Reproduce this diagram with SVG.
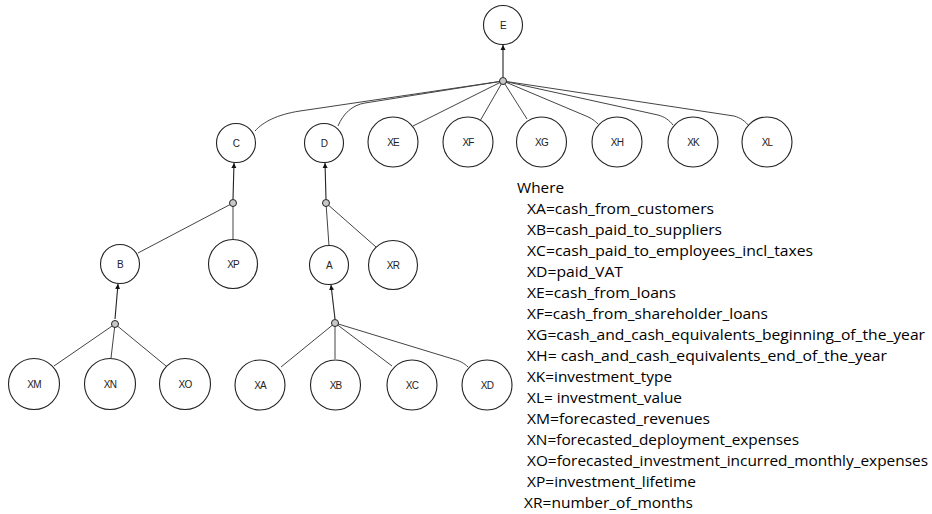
<svg xmlns="http://www.w3.org/2000/svg" width="932" height="514" viewBox="0 0 932 514">
  <style>
    .node circle { fill: #fff; stroke: #222; stroke-width: 1.1; }
    .node text { font-family: "Liberation Sans", Arial, sans-serif; font-size: 10px; fill: #222; text-anchor: middle; letter-spacing: -0.8px; }
    .edge { fill: none; stroke: #444; stroke-width: 1; }
    .arrow { fill: none; stroke: #222; stroke-width: 1.1; marker-end: url(#head); }
    .junction { fill: #c8c8c8; stroke: #222; stroke-width: 1; }
    .legend { font-family: "Open Sans", "Liberation Sans", sans-serif; font-size: 13.8px; fill: #000; }
  </style>
  <defs>
    <marker id="head" viewBox="0 0 10 10" refX="10" refY="5" markerWidth="5" markerHeight="8" markerUnits="userSpaceOnUse" orient="auto">
      <path d="M0,0 L10,5 L0,10 Z" fill="#111"/>
    </marker>
  </defs>

  <rect width="932" height="514" fill="#fff"/>

  <!-- connectors -->
  <g id="connectors">
    <!-- top junction feeding E -->
    <path class="arrow" d="M503,77 L503,45"/>
    <path class="edge" d="M503,81 L300,111 C277,114.5 263,122 255,131"/>
    <path class="edge" d="M503,81 L365,103 C352,105 343,114 338,126"/>
    <path class="edge" d="M503,81 L413,126"/>
    <path class="edge" d="M503,81 L480,121"/>
    <path class="edge" d="M503,81 L527,119"/>
    <path class="edge" d="M503,81 L586,116 C592,118.5 595,121 598,124"/>
    <path class="edge" d="M503,81 L658,115 C665,117 669,120 673,125"/>
    <path class="edge" d="M503,81 L734,116 C741,118 745,121 749,126"/>

    <!-- junction feeding C -->
    <path class="arrow" d="M233,199 L234,163"/>
    <path class="edge" d="M233,203 L138,253"/>
    <path class="edge" d="M233,203 L233,239"/>

    <!-- junction feeding D -->
    <path class="arrow" d="M326,199 L325,163"/>
    <path class="edge" d="M326,203 L329,246"/>
    <path class="edge" d="M326,203 L376,247"/>

    <!-- junction feeding B -->
    <path class="arrow" d="M115,319 L118,284"/>
    <path class="edge" d="M115,324 L54,366"/>
    <path class="edge" d="M115,324 L111,358"/>
    <path class="edge" d="M115,324 L166,366"/>

    <!-- junction feeding A -->
    <path class="arrow" d="M335,319 L331,285"/>
    <path class="edge" d="M335,323 L281,367"/>
    <path class="edge" d="M335,323 L335,359"/>
    <path class="edge" d="M335,323 L392,366"/>
    <path class="edge" d="M335,323 L453,359 C460,361 464,363 468,367"/>

    <!-- junction markers -->
    <circle class="junction" cx="503" cy="81" r="3.5"/>
    <circle class="junction" cx="233" cy="203" r="3.5"/>
    <circle class="junction" cx="326" cy="203" r="3.5"/>
    <circle class="junction" cx="115" cy="324" r="3.5"/>
    <circle class="junction" cx="335" cy="323" r="3.5"/>
  </g>

  <!-- nodes -->
  <g id="node-E" class="node"><circle cx="503" cy="25" r="19.5"/><text x="503" y="29">E</text></g>
  <g id="node-C" class="node"><circle cx="236" cy="143" r="19.5"/><text x="236" y="147">C</text></g>
  <g id="node-D" class="node"><circle cx="324" cy="143" r="19.5"/><text x="324" y="147">D</text></g>
  <g id="node-XE" class="node"><circle cx="393" cy="142" r="25"/><text x="393" y="146">XE</text></g>
  <g id="node-XF" class="node"><circle cx="468" cy="142" r="25"/><text x="468" y="146">XF</text></g>
  <g id="node-XG" class="node"><circle cx="541.5" cy="142" r="25"/><text x="541.5" y="146">XG</text></g>
  <g id="node-XH" class="node"><circle cx="617" cy="142" r="25"/><text x="617" y="146">XH</text></g>
  <g id="node-XK" class="node"><circle cx="693" cy="142" r="25"/><text x="693" y="146">XK</text></g>
  <g id="node-XL" class="node"><circle cx="767" cy="142" r="25"/><text x="767" y="146">XL</text></g>
  <g id="node-B" class="node"><circle cx="120" cy="264" r="19.5"/><text x="120" y="268">B</text></g>
  <g id="node-XP" class="node"><circle cx="233" cy="264" r="24.5"/><text x="233" y="268">XP</text></g>
  <g id="node-A" class="node"><circle cx="329" cy="265" r="19.5"/><text x="329" y="269">A</text></g>
  <g id="node-XR" class="node"><circle cx="393" cy="265" r="24.5"/><text x="393" y="269">XR</text></g>
  <g id="node-XM" class="node"><circle cx="34" cy="384" r="25.5"/><text x="34" y="388">XM</text></g>
  <g id="node-XN" class="node"><circle cx="110" cy="384" r="25.5"/><text x="110" y="388">XN</text></g>
  <g id="node-XO" class="node"><circle cx="185" cy="384" r="25.5"/><text x="185" y="388">XO</text></g>
  <g id="node-XA" class="node"><circle cx="260" cy="385" r="25"/><text x="260" y="389">XA</text></g>
  <g id="node-XB" class="node"><circle cx="335.5" cy="385" r="25"/><text x="335.5" y="389">XB</text></g>
  <g id="node-XC" class="node"><circle cx="412" cy="385" r="25"/><text x="412" y="389">XC</text></g>
  <g id="node-XD" class="node"><circle cx="487" cy="385" r="25"/><text x="487" y="389">XD</text></g>

  <!-- legend -->
  <g id="legend" class="legend">
    <text x="517" y="193" textLength="47" lengthAdjust="spacingAndGlyphs">Where</text>
    <text x="527" y="214" textLength="187" lengthAdjust="spacingAndGlyphs">XA=cash_from_customers</text>
    <text x="527" y="235" textLength="195" lengthAdjust="spacingAndGlyphs">XB=cash_paid_to_suppliers</text>
    <text x="527" y="256" textLength="286" lengthAdjust="spacingAndGlyphs">XC=cash_paid_to_employees_incl_taxes</text>
    <text x="527" y="277" textLength="96" lengthAdjust="spacingAndGlyphs">XD=paid_VAT</text>
    <text x="527" y="298" textLength="149" lengthAdjust="spacingAndGlyphs">XE=cash_from_loans</text>
    <text x="527" y="319" textLength="241" lengthAdjust="spacingAndGlyphs">XF=cash_from_shareholder_loans</text>
    <text x="527" y="340" textLength="398" lengthAdjust="spacingAndGlyphs">XG=cash_and_cash_equivalents_beginning_of_the_year</text>
    <text x="527" y="361" textLength="360" lengthAdjust="spacingAndGlyphs">XH= cash_and_cash_equivalents_end_of_the_year</text>
    <text x="527" y="382" textLength="145" lengthAdjust="spacingAndGlyphs">XK=investment_type</text>
    <text x="527" y="403" textLength="155" lengthAdjust="spacingAndGlyphs">XL= investment_value</text>
    <text x="527" y="424" textLength="183" lengthAdjust="spacingAndGlyphs">XM=forecasted_revenues</text>
    <text x="527" y="445" textLength="272" lengthAdjust="spacingAndGlyphs">XN=forecasted_deployment_expenses</text>
    <text x="527" y="466" textLength="401" lengthAdjust="spacingAndGlyphs">XO=forecasted_investment_incurred_monthly_expenses</text>
    <text x="527" y="487" textLength="169" lengthAdjust="spacingAndGlyphs">XP=investment_lifetime</text>
    <text x="524" y="508" textLength="169" lengthAdjust="spacingAndGlyphs">XR=number_of_months</text>
  </g>
</svg>
